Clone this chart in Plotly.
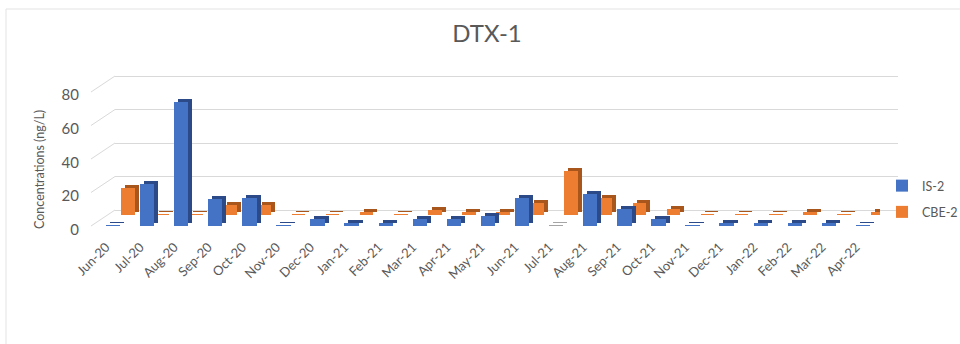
import plotly.graph_objects as go

# ---- data -------------------------------------------------------------
months = ["Jun-20", "Jul-20", "Aug-20", "Sep-20", "Oct-20", "Nov-20", "Dec-20",
          "Jan-21", "Feb-21", "Mar-21", "Apr-21", "May-21", "Jun-21", "Jul-21",
          "Aug-21", "Sep-21", "Oct-21", "Nov-21", "Dec-21", "Jan-22", "Feb-22",
          "Mar-22", "Apr-22"]
is2 = [0.3, 25, 74, 16, 17, 0.3, 4, 2, 2, 4, 4, 6, 17, 0.3,
       19, 10, 4, 0.3, 2, 1.5, 1.5, 1.5, 0.3]
cbe2 = [16, 0.3, 0.3, 6, 6, 0.3, 0.3, 2, 0.3, 3, 2, 1.5, 7, 26,
        10, 7, 3.5, 0.3, 0.3, 0.3, 2, 0.3, 2]
y_ticks = [0, 20, 40, 60, 80]

# ---- page geometry (pixels) -------------------------------------------
W, H = 960, 344
PPU = 1.675                 # pixels per ng/L
BASE = 226                  # front floor line
TOP = 56                    # top of the value area
X0, X1 = 96, 880            # category area
GX0, GX1 = 115, 898         # back wall
N = len(months)
CW = (X1 - X0) / N

BLUE, BLUE_SIDE, GREY = "#4472C4", "#2B4A87", "#A5A5A5"
ORANGE, ORANGE_SIDE = "#ED7D31", "#A9561D"
TXT = "#595959"
FONT = "Lato"


def xr(dx):
    return [-0.5 - dx / CW, N - 0.5 - dx / CW]


def yr(dy, ppu=PPU):
    return [-dy / ppu, (BASE - TOP - dy) / ppu]


ydom = [(H - BASE) / H, (H - TOP) / H]
xdom = [X0 / W, X1 / W]
hidden = dict(visible=False, fixedrange=True, automargin=False)

fig = go.Figure()

# back wall grid (own subplot, drawn first)
fig.add_trace(go.Scatter(x=[None], y=[None], xaxis="x", yaxis="y",
                         showlegend=False, hoverinfo="skip"))

blue_cols = [GREY if m == "Jul-21" else BLUE for m in months]
blue_side = [GREY if m == "Jul-21" else BLUE_SIDE for m in months]

# back row (CBE-2): side then face
fig.add_trace(go.Bar(x=months, y=cbe2, xaxis="x2", yaxis="y2", width=0.40,
                     marker=dict(color=ORANGE_SIDE, line_width=0),
                     showlegend=False, hoverinfo="skip"))
fig.add_trace(go.Bar(x=months, y=cbe2, xaxis="x3", yaxis="y3", width=0.40,
                     name="CBE-2", legendrank=2, legendgroup="b",
                     marker=dict(color=ORANGE, line_width=0)))
# front row (IS-2): side then face
fig.add_trace(go.Bar(x=months, y=is2, xaxis="x4", yaxis="y4", width=0.42,
                     marker=dict(color=blue_side, line_width=0),
                     showlegend=False, hoverinfo="skip"))
fig.add_trace(go.Bar(x=months, y=is2, xaxis="x5", yaxis="y5", width=0.42,
                     name="IS-2", legendrank=1, legendgroup="a",
                     marker=dict(color=blue_cols, line_width=0)))
# axis labels along the front edge of the floor (own subplot)
fig.add_trace(go.Scatter(x=months, y=[0] * N, xaxis="x6", yaxis="y6",
                         mode="markers", marker=dict(opacity=0),
                         showlegend=False, hoverinfo="skip"))

ORANGE_DX, ORANGE_DY = 15, 11
SIDE_DX, SIDE_DY = 4, 3
LABEL_PPU = 1.69
LBL_DX, LBL_DY = -7, 4
LBASE = BASE + LBL_DY

fig.update_layout(
    width=W, height=H, margin=dict(l=0, r=0, t=0, b=0, autoexpand=False),
    paper_bgcolor="white", plot_bgcolor="rgba(0,0,0,0)",
    font=dict(family=FONT, color=TXT),
    showlegend=True, bargap=0,
    title=dict(text="DTX-1", x=487 / W, xanchor="center",
               y=1 - 34 / H, yanchor="middle",
               font=dict(size=24, color=TXT, family=FONT)),
    legend=dict(x=882 / W, xanchor="left", y=1 - 199 / H, yanchor="middle",
                font=dict(size=12.5, color=TXT), tracegroupgap=7,
                itemwidth=30, bgcolor="rgba(0,0,0,0)"),
    xaxis=dict(domain=[GX0 / W, GX1 / W], range=[0, 1], **hidden),
    yaxis=dict(domain=ydom, range=yr(16), anchor="x", tickvals=y_ticks,
               showgrid=True, gridcolor="#D9D9D9", gridwidth=1,
               showticklabels=False, zeroline=False, showline=False,
               fixedrange=True, automargin=False),
    xaxis2=dict(domain=xdom, range=xr(ORANGE_DX + SIDE_DX), anchor="y2",
                type="category", **hidden),
    yaxis2=dict(domain=ydom, range=yr(ORANGE_DY + SIDE_DY), anchor="x2",
                **hidden),
    xaxis3=dict(overlaying="x2", range=xr(ORANGE_DX), anchor="y3",
                type="category", **hidden),
    yaxis3=dict(overlaying="y2", range=yr(ORANGE_DY), anchor="x3", **hidden),
    xaxis4=dict(overlaying="x2", range=xr(SIDE_DX), anchor="y4",
                type="category", **hidden),
    yaxis4=dict(overlaying="y2", range=yr(SIDE_DY), anchor="x4", **hidden),
    xaxis5=dict(overlaying="x2", range=xr(0), anchor="y5",
                type="category", **hidden),
    yaxis5=dict(overlaying="y2", range=yr(0), anchor="x5", **hidden),
    xaxis6=dict(domain=[(X0 + LBL_DX) / W, (X1 + LBL_DX) / W],
                range=xr(0), anchor="y6", type="category",
                categoryorder="array", categoryarray=months,
                tickangle=-45, tickfont=dict(size=13, color=TXT),
                ticklabelstandoff=6, showline=False, showgrid=False,
                zeroline=False, ticks="", fixedrange=True, automargin=False),
    yaxis6=dict(domain=[(H - LBASE) / H, (H - TOP) / H],
                range=[0, (LBASE - TOP) / LABEL_PPU], anchor="x6",
                side="left", tickvals=y_ticks,
                tickfont=dict(size=15, color=TXT), ticklabelstandoff=9,
                showgrid=False, zeroline=False, showline=False, ticks="",
                fixedrange=True, automargin=False),
    annotations=[dict(text="Concentrations (ng/L)", textangle=-90,
                      xref="paper", yref="paper", x=39 / W, y=1 - 170 / H,
                      xanchor="center", yanchor="middle", showarrow=False,
                      font=dict(size=12.5, color=TXT, family=FONT))],
)

# slanted floor/wall connectors on the left edge
shapes = []
for v in y_ticks:
    yf = BASE - v * PPU
    yb = BASE - 16 - v * PPU
    shapes.append(dict(type="line", xref="paper", yref="paper",
                       x0=91 / W, y0=1 - yf / H, x1=GX0 / W, y1=1 - yb / H,
                       line=dict(color="#D9D9D9", width=1), layer="below"))
# chart frame
shapes.append(dict(type="rect", xref="paper", yref="paper",
                   x0=6 / W, y0=-0.05, x1=1.05, y1=1 - 9 / H,
                   line=dict(color="#E3E3E3", width=1), layer="below"))
fig.update_layout(shapes=shapes)

fig.write_html("out.html")
